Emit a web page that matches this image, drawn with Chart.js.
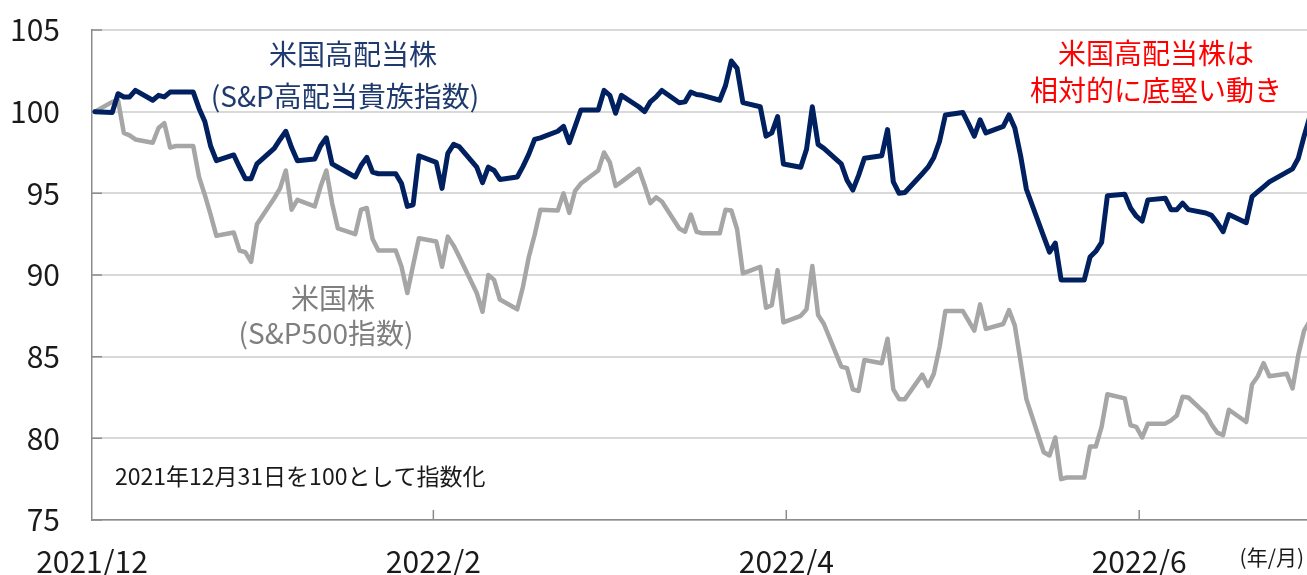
<!DOCTYPE html>
<html><head><meta charset="utf-8">
<script src="https://cdn.jsdelivr.net/npm/chart.js@4.4.1/dist/chart.umd.min.js"></script>
<style>html,body{margin:0;padding:0;background:#fff;overflow:hidden}#wrap{width:1307px;height:575px;position:relative}</style>
</head><body><div id="wrap"><canvas id="c" width="1307" height="575"></canvas></div>
<script>
const dates = [
'2021-12-31',
'2022-01-03','2022-01-04','2022-01-05','2022-01-06','2022-01-07','2022-01-10','2022-01-11','2022-01-12','2022-01-13','2022-01-14',
'2022-01-17','2022-01-18','2022-01-19','2022-01-20','2022-01-21','2022-01-24','2022-01-25','2022-01-26','2022-01-27','2022-01-28','2022-01-31',
'2022-02-01','2022-02-02','2022-02-03','2022-02-04','2022-02-07','2022-02-08','2022-02-09','2022-02-10','2022-02-11',
'2022-02-14','2022-02-15','2022-02-16','2022-02-17','2022-02-18','2022-02-21','2022-02-22','2022-02-23','2022-02-24','2022-02-25','2022-02-28',
'2022-03-01','2022-03-02','2022-03-03','2022-03-04','2022-03-07','2022-03-08','2022-03-09','2022-03-10','2022-03-11',
'2022-03-14','2022-03-15','2022-03-16','2022-03-17','2022-03-18','2022-03-21','2022-03-22','2022-03-23','2022-03-24','2022-03-25',
'2022-03-28','2022-03-29','2022-03-30','2022-03-31',
'2022-04-01','2022-04-04','2022-04-05','2022-04-06','2022-04-07','2022-04-08','2022-04-11','2022-04-12','2022-04-13','2022-04-14','2022-04-15',
'2022-04-18','2022-04-19','2022-04-20','2022-04-21','2022-04-22','2022-04-25','2022-04-26','2022-04-27','2022-04-28','2022-04-29',
'2022-05-02','2022-05-03','2022-05-04','2022-05-05','2022-05-06','2022-05-09','2022-05-10','2022-05-11','2022-05-12','2022-05-13',
'2022-05-16','2022-05-17','2022-05-18','2022-05-19','2022-05-20','2022-05-23','2022-05-24','2022-05-25','2022-05-26','2022-05-27',
'2022-05-30','2022-05-31',
'2022-06-01','2022-06-02','2022-06-03','2022-06-06','2022-06-07','2022-06-08','2022-06-09','2022-06-10','2022-06-13','2022-06-14',
'2022-06-15','2022-06-16','2022-06-17','2022-06-20','2022-06-21','2022-06-22','2022-06-23','2022-06-24','2022-06-27','2022-06-28',
'2022-06-29','2022-06-30',
'2022-07-01','2022-07-04','2022-07-05','2022-07-06','2022-07-07','2022-07-08','2022-07-11','2022-07-12','2022-07-13','2022-07-14',
'2022-07-15','2022-07-18','2022-07-19','2022-07-20','2022-07-21','2022-07-22','2022-07-25','2022-07-26','2022-07-27','2022-07-28','2022-07-29'
];

// 米国高配当株 (S&P高配当貴族指数)
const highDividend = [
100.0,
99.95,101.1,100.9,100.9,101.3,100.7,101.0,100.9,101.2,101.2,
101.2,100.2,99.4,97.9,97.0,97.35,96.6,95.9,95.9,96.8,97.75,
98.3,98.8,97.8,97.0,97.1,97.9,98.4,96.8,96.6,
96.0,96.7,97.2,96.3,96.2,96.2,95.6,94.2,94.3,97.3,96.9,
95.3,97.45,98.0,97.85,96.6,95.65,96.6,96.4,95.85,
96.0,96.65,97.4,98.3,98.4,98.8,99.1,98.1,99.1,100.1,
100.1,101.3,101.0,99.9,
101.0,100.3,100.0,100.6,100.9,101.3,100.55,100.6,101.2,101.05,101.0,
100.7,101.6,103.1,102.65,100.55,100.3,98.5,98.7,99.7,96.8,
96.6,97.7,100.3,98.0,97.75,96.8,95.8,95.2,96.1,97.15,
97.3,98.9,95.7,95.0,95.05,96.2,96.6,97.2,98.2,99.8,
99.95,99.25,
98.5,99.5,98.7,99.1,99.8,99.0,97.3,95.25,92.35,91.4,
91.95,89.7,89.7,89.7,91.1,91.45,92.0,94.85,94.95,94.1,
93.6,93.3,
94.6,94.7,94.0,94.0,94.4,94.0,93.8,93.65,93.2,92.65,
93.7,93.2,94.8,95.1,95.4,95.7,96.3,96.5,97.15,98.5,99.7
];

// 米国株 (S&P500指数)
const sp500 = [
100.0,
100.6,100.7,98.7,98.55,98.3,98.1,99.0,99.3,97.8,97.9,
97.9,96.0,94.9,93.7,92.4,92.6,91.5,91.4,90.8,93.1,94.7,
95.3,96.4,94.0,94.6,94.2,95.4,96.4,94.4,92.85,
92.5,94.0,94.1,92.2,91.5,91.5,90.5,88.9,90.6,92.25,92.05,
90.5,92.35,91.8,91.1,88.9,87.75,90.0,89.7,88.5,
87.9,89.3,91.1,92.45,94.0,93.95,95.0,93.8,95.15,95.6,
96.4,97.5,96.9,95.45,
95.7,96.5,95.5,94.4,94.75,94.5,92.85,92.65,93.7,92.65,92.55,
92.55,94.0,93.95,92.8,90.1,90.5,88.0,88.15,90.3,87.1,
87.5,87.9,90.55,87.55,87.0,84.4,84.3,83.0,82.9,84.8,
84.6,86.1,83.0,82.4,82.4,83.9,83.2,83.95,85.6,87.8,
87.8,87.2,
86.6,88.2,86.7,87.0,87.85,86.9,84.7,82.4,79.15,78.95,
80.05,77.5,77.6,77.6,79.5,79.5,80.7,82.7,82.45,80.8,
80.7,80.05,
80.9,80.9,81.1,81.4,82.55,82.5,81.5,80.85,80.35,80.2,
81.75,81.0,83.3,83.8,84.6,83.8,83.95,83.05,85.1,86.6,87.2
];

const xTickDates = ['2021-12-31','2022-02-28','2022-04-30','2022-06-30'];
const xTickLabels = ['2021/12','2022/2','2022/4','2022/6'];
const yTicks = [75,80,85,90,95,100,105];

const DAY = 86400000;
const base = Date.parse(dates[0]);
const dayOf = d => Math.round((Date.parse(d) - base) / DAY);

const FONT = '"Noto Sans CJK JP","Noto Sans",sans-serif';
const AXIS_COLOR = '#8c8c8c';

const decor = {
  id: 'decor',
  beforeDatasetsDraw(chart) {
    const {ctx, chartArea: a, scales: {x, y}} = chart;
    ctx.save();
    ctx.strokeStyle = AXIS_COLOR;
    ctx.lineWidth = 1.5;
    ctx.beginPath();
    yTicks.forEach(v => {
      const py = y.getPixelForValue(v);
      ctx.moveTo(a.left, py); ctx.lineTo(a.left + 10, py);
    });
    xTickDates.slice(1).forEach(d => {
      const px = x.getPixelForValue(dayOf(d) - 0.5);
      ctx.moveTo(px, a.bottom); ctx.lineTo(px, a.bottom - 10);
    });
    ctx.stroke();
    ctx.restore();
  },
  afterDraw(chart) {
    const {ctx, chartArea: a} = chart;
    ctx.save();
    ctx.textBaseline = 'middle';
    ctx.textAlign = 'center';
    ctx.font = '28px ' + FONT;
    ctx.fillStyle = '#1f3a6e';
    ctx.fillText('米国高配当株', a.left + 261, a.top + 24);
    ctx.fillText('(S&P高配当貴族指数)', a.left + 253, a.top + 66);
    ctx.fillStyle = '#ff0000';
    ctx.fillText('米国高配当株は', a.left + 1064, a.top + 23);
    ctx.fillText('相対的に底堅い動き', a.left + 1064, a.top + 60);
    ctx.fillStyle = '#7f7f7f';
    ctx.fillText('米国株', a.left + 241, a.top + 268);
    ctx.fillText('(S&P500指数)', a.left + 234, a.top + 303);
    ctx.textAlign = 'left';
    ctx.fillStyle = '#1a1a1a';
    ctx.font = '23px ' + FONT;
    ctx.fillText('2021年12月31日を100として指数化', a.left + 23, a.bottom - 44);
    ctx.textAlign = 'right';
    ctx.font = '21px ' + FONT;
    ctx.fillText('(年/月)', a.right - 3, a.bottom + 37);
    ctx.restore();
  }
};

const toPts = arr => arr.map((v, i) => ({x: dayOf(dates[i]), y: v}));

new Chart(document.getElementById('c'), {
  type: 'line',
  data: {
    datasets: [
      {label: '米国高配当株', data: toPts(highDividend), borderColor: '#002060', borderWidth: 5,
       pointRadius: 0, tension: 0, borderJoinStyle: 'round', borderCapStyle: 'round', clip: 0},
      {label: '米国株', data: toPts(sp500), borderColor: '#a6a6a6', borderWidth: 4.5,
       pointRadius: 0, tension: 0, borderJoinStyle: 'round', borderCapStyle: 'round', clip: 0}
    ]
  },
  options: {
    responsive: false,
    devicePixelRatio: 1,
    animation: false,
    events: [],
    layout: {padding: {top: 30, right: 0, left: 0, bottom: 0}},
    plugins: {legend: {display: false}, tooltip: {enabled: false}},
    scales: {
      x: {
        type: 'linear',
        min: -0.5,
        max: dayOf(dates[dates.length - 1]) - 0.5,
        afterBuildTicks: s => { s.ticks = xTickDates.map(d => ({value: dayOf(d) - 0.5})); },
        afterFit: s => { s.height = 55; s.paddingLeft = 0; s.paddingRight = 0; s.paddingTop = 0; s.paddingBottom = 0; },
        grid: {display: false, drawTicks: false},
        border: {display: true, color: AXIS_COLOR, width: 1.5},
        ticks: {
          autoSkip: false, maxRotation: 0, minRotation: 0, padding: 24,
          color: '#1a1a1a', font: {family: FONT, size: 30},
          callback: (v, i) => xTickLabels[i]
        }
      },
      y: {
        min: 75, max: 105,
        afterBuildTicks: s => { s.ticks = yTicks.map(v => ({value: v})); },
        afterFit: s => { s.width = 92; s.paddingTop = 0; s.paddingBottom = 0; s.paddingLeft = 0; s.paddingRight = 0; },
        grid: {color: '#d9d9d9', lineWidth: 2, drawTicks: false},
        border: {display: true, color: AXIS_COLOR, width: 1.5},
        ticks: {padding: 32, color: '#1a1a1a', font: {family: FONT, size: 30}}
      }
    }
  },
  plugins: [decor]
});
</script></body></html>
